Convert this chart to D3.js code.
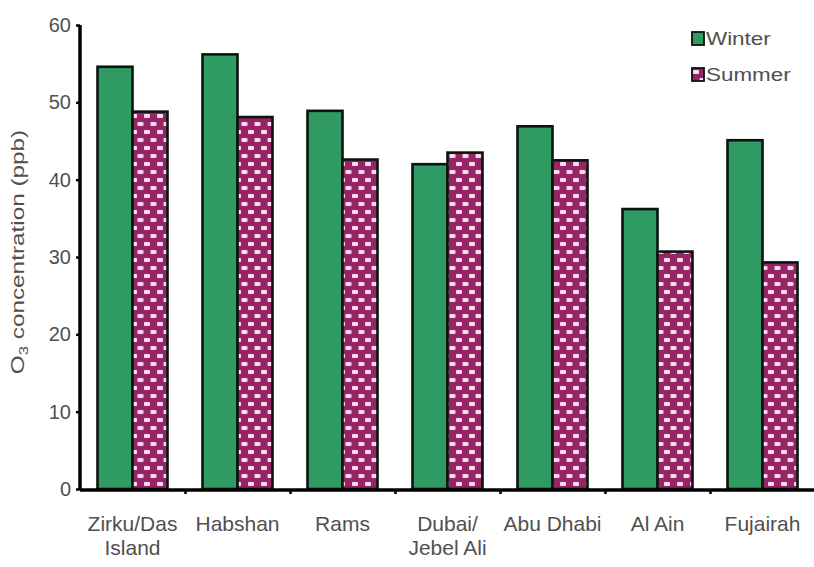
<!DOCTYPE html>
<html><head><meta charset="utf-8">
<script src="https://cdn.jsdelivr.net/npm/d3@7"></script>
<style>body{margin:0;background:#fff}svg{display:block}text{font-family:"Liberation Sans",Arial,sans-serif;fill:#505050}</style>
</head><body><svg id="c" width="814" height="567"></svg>
<script>
const categories = [["Zirku/Das","Island"],["Habshan"],["Rams"],["Dubai/","Jebel Ali"],["Abu Dhabi"],["Al Ain"],["Fujairah"]];
const seriesNames = ["Winter","Summer"];
const winter = [54.6, 56.2, 48.9, 42.0, 46.9, 36.2, 45.1];
const summer = [48.8, 48.1, 42.6, 43.5, 42.5, 30.7, 29.3];
const yTicks = [0,10,20,30,40,50,60];

const svg = d3.select("#c");
const defs = svg.append("defs");
const pat = defs.append("pattern").attr("id","brick").attr("patternUnits","userSpaceOnUse")
  .attr("width",13).attr("height",16);
pat.append("rect").attr("width",13).attr("height",16).attr("fill","#962466");
[[1,2,6,4],[7.5,10,5.5,4],[0,10,0.5,4]].forEach(d=>pat.append("rect").attr("x",d[0]).attr("y",d[1]).attr("width",d[2]).attr("height",d[3]).attr("rx",1).attr("fill","#f9dcec"));

const ids = categories.map((c,i)=>i);
const x = d3.scaleBand().domain(ids).range([80,815]).paddingInner(1/3).paddingOuter(1/6);
const xs = d3.scaleBand().domain(seriesNames).range([0,x.bandwidth()]);
const y = d3.scaleLinear().domain([0,60]).range([489,25]);
const fills = {Winter:"#2f9a61", Summer:"url(#brick)"};
const vals = {Winter:winter, Summer:summer};

const g = svg.append("g");
seriesNames.forEach(s=>{
  g.selectAll(null).data(ids).enter().append("rect")
    .attr("x",i=>x(i)+xs(s)).attr("width",xs.bandwidth())
    .attr("y",i=>y(vals[s][i])).attr("height",i=>y(0)-y(vals[s][i]))
    .attr("fill",fills[s]).attr("stroke","#0b140e").attr("stroke-width",2.6);
});

// y axis
const ya = svg.append("g").attr("transform","translate(80,0)")
  .call(d3.axisLeft(y).tickValues(yTicks).tickSize(4).tickPadding(5).tickFormat(d3.format("d")));
ya.select(".domain").attr("d","M0,25V490").attr("stroke","#000").attr("stroke-width",3.5);
ya.selectAll(".tick line").attr("stroke","#000").attr("stroke-width",2.5);
ya.selectAll(".tick text").attr("font-size",20).attr("fill","#505050").attr("font-family","Liberation Sans, Arial, sans-serif");

// x axis
const xb = d3.scaleLinear().domain([0,7]).range([80,815]);
const xa = svg.append("g").attr("transform","translate(0,490)")
  .call(d3.axisBottom(xb).tickValues(d3.range(1,8)).tickSize(4).tickFormat(""));
xa.select(".domain").attr("d","M80,0H815").attr("stroke","#000").attr("stroke-width",3.5);
xa.selectAll(".tick line").attr("stroke","#000").attr("stroke-width",2.5);

// x labels
const lab = svg.append("g").selectAll("text").data(ids).enter().append("text")
  .attr("text-anchor","middle").attr("font-size",20)
  .attr("transform",i=>`translate(${x(i)+x.bandwidth()/2},531) scale(1.05,1)`);
lab.selectAll("tspan").data(i=>categories[i]).enter().append("tspan")
  .attr("x",0).attr("dy",(d,j)=>j?24:0).text(d=>d);

// y title
const yt = svg.append("text").attr("transform","translate(24,252) rotate(-90) scale(1.28,1)")
  .attr("text-anchor","middle").attr("font-size",19);
yt.append("tspan").text("O");
yt.append("tspan").attr("font-size",13).attr("dy",4).text("3");
yt.append("tspan").attr("dy",-4).text(" concentration (ppb)");

// legend
const lg = svg.append("g").selectAll("g").data(seriesNames).enter().append("g")
  .attr("transform",(d,i)=>`translate(692,${32+i*36})`);
lg.append("rect").attr("width",12).attr("height",13).attr("fill",d=>fills[d]).attr("stroke","#111").attr("stroke-width",1.8);
lg.append("text").attr("transform","translate(14,13) scale(1.18,1)").attr("font-size",19).text(d=>d);
</script></body></html>
